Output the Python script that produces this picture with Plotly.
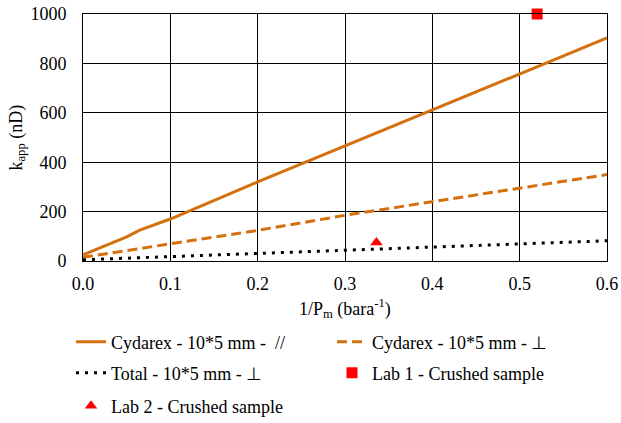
import plotly.graph_objects as go

# Data
solid_x = [0.0, 0.05, 0.065, 0.1, 0.2, 0.3, 0.4, 0.5, 0.6]
solid_y = [25, 98, 125, 170, 320, 465, 610, 757, 903]
dashed_x = [0.0, 0.1, 0.2, 0.3, 0.4, 0.5, 0.6]
dashed_y = [15, 68, 124, 185, 240, 296, 350]
dotted_x = [0.0, 0.1, 0.2, 0.3, 0.4, 0.5, 0.6]
dotted_y = [5, 18, 30, 45, 57, 69, 82]
lab1_x = [0.52]
lab1_y = [1000]
lab2_x = [0.336]
lab2_y = [75]

names = ["Cydarex - 10*5 mm -  //", "Cydarex - 10*5 mm - \u22a5",
         "Total - 10*5 mm - \u22a5", "Lab 1 - Crushed sample",
         "Lab 2 - Crushed sample"]

ORANGE = "#D5700F"
FONT = "Liberation Serif, Times New Roman, serif"

W, H = 621, 423
ML, MR, MT, MB = 83, 14, 14, 162
PW, PH = W - ML - MR, H - MT - MB

fig = go.Figure()
fig.add_trace(go.Scatter(x=solid_x, y=solid_y, mode="lines", name=names[0],
                         line=dict(color=ORANGE, width=3), legend="legend"))
fig.add_trace(go.Scatter(x=dashed_x, y=dashed_y, mode="lines", name=names[1],
                         line=dict(color=ORANGE, width=3, dash="10px,5px"), legend="legend"))
fig.add_trace(go.Scatter(x=dotted_x, y=dotted_y, mode="lines", name=names[2],
                         line=dict(color="black", width=3, dash="3px,6px"), legend="legend2"))
fig.add_trace(go.Scatter(x=lab1_x, y=lab1_y, mode="markers", name=names[3],
                         marker=dict(color="#FF0000", symbol="square", size=11), legend="legend2",
                         cliponaxis=False))
fig.add_trace(go.Scatter(x=lab2_x, y=lab2_y, mode="markers", name=names[4],
                         marker=dict(color="#FF0000", symbol="triangle-up", size=11), legend="legend3",
                         cliponaxis=False))

leg_common = dict(orientation="h", xref="container", yref="container", xanchor="left",
                  yanchor="middle", entrywidth=216, entrywidthmode="pixels",
                  font=dict(family=FONT, size=18, color="black"), bgcolor="rgba(0,0,0,0)",
                  itemwidth=30, tracegroupgap=0)


def px_to_paper_x(px):
    return (px - ML) / PW


def px_to_paper_y(py):
    return (H - MB - py) / PH


fig.update_layout(
    width=W, height=H,
    margin=dict(l=ML, r=MR, t=MT, b=MB, autoexpand=False),
    plot_bgcolor="white", paper_bgcolor="white",
    font=dict(family=FONT, size=18, color="black"),
    showlegend=True,
    legend=dict(x=71 / W, y=1 - 342 / H, **leg_common),
    legend2=dict(x=71 / W, y=1 - 373 / H, **leg_common),
    legend3=dict(x=71 / W, y=1 - 406 / H, **leg_common),
    xaxis=dict(range=[0, 0.6], dtick=0.1, tickformat=".1f", showgrid=True,
               gridcolor="black", gridwidth=1, showline=True, linecolor="black",
               linewidth=1, mirror=True, zeroline=False, ticks="",
               ticklabelstandoff=6, tickfont=dict(family=FONT, size=18)),
    yaxis=dict(range=[0, 1000], dtick=200, showgrid=True,
               gridcolor="black", gridwidth=1, showline=True, linecolor="black",
               linewidth=1, mirror=True, zeroline=False, ticks="",
               ticklabelstandoff=12, tickfont=dict(family=FONT, size=18)),
    annotations=[
        dict(text="1/P<sub>m</sub> (bara<sup>-1</sup>)", xref="paper", yref="paper",
             x=0.5, y=px_to_paper_y(308), xanchor="center", yanchor="middle", showarrow=False,
             font=dict(family=FONT, size=18)),
        dict(text="k<sub>app</sub> (nD)", xref="paper", yref="paper",
             x=px_to_paper_x(17), y=0.5, xanchor="center", yanchor="middle", showarrow=False,
             textangle=-90, font=dict(family=FONT, size=18)),
    ],
)

fig.write_html("out.html")
